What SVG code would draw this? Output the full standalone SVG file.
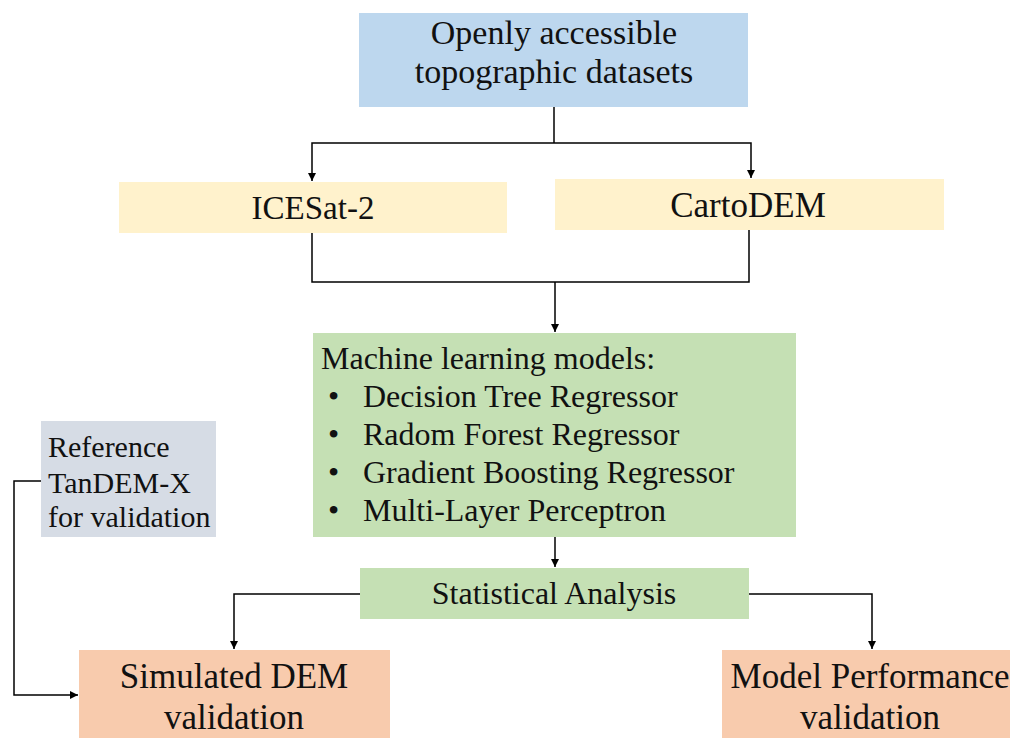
<svg xmlns="http://www.w3.org/2000/svg" width="1010" height="738" viewBox="0 0 1010 738">
  <defs>
    <marker id="arr" viewBox="0 0 10 10" refX="10" refY="5" markerWidth="8" markerHeight="8" markerUnits="userSpaceOnUse" orient="auto">
      <path d="M0,0 L10,5 L0,10 z" fill="#000"/>
    </marker>
  </defs>
  <style>
    text { font-family: "Liberation Serif", "Times New Roman", serif; fill: #111; }
    .c { text-anchor: middle; }
    .blue { fill: #BDD7EE; }
    .yellow { fill: #FFF2CC; }
    .green { fill: #C5E0B4; }
    .grey { fill: #D6DCE5; }
    .salmon { fill: #F8CBAD; }
    .conn path { fill: none; stroke: #000; stroke-width: 1.5; }
  </style>
  <rect width="1010" height="738" fill="#fff"/>

  <g id="openly">
    <rect class="blue" x="359" y="13" width="389" height="94"/>
    <text class="c" x="554" y="44" font-size="34">Openly accessible</text>
    <text class="c" x="554" y="83" font-size="34">topographic datasets</text>
  </g>
  <g id="icesat">
    <rect class="yellow" x="119" y="182" width="388" height="51"/>
    <text class="c" x="313" y="219" font-size="34" textLength="123" lengthAdjust="spacingAndGlyphs">ICESat-2</text>
  </g>
  <g id="cartodem">
    <rect class="yellow" x="555" y="179" width="389" height="51"/>
    <text class="c" x="748" y="217" font-size="35">CartoDEM</text>
  </g>
  <g id="ml">
    <rect class="green" x="313" y="333" width="483" height="204"/>
    <text x="321" y="369" font-size="32">Machine learning models:</text>
    <text x="328" y="407" font-size="32">•</text>
    <text x="363" y="407" font-size="32">Decision Tree Regressor</text>
    <text x="328" y="445" font-size="32">•</text>
    <text x="363" y="445" font-size="32">Radom Forest Regressor</text>
    <text x="328" y="483" font-size="32">•</text>
    <text x="363" y="483" font-size="32">Gradient Boosting Regressor</text>
    <text x="328" y="521" font-size="32">•</text>
    <text x="363" y="521" font-size="32">Multi-Layer Perceptron</text>
  </g>
  <g id="reference">
    <rect class="grey" x="41" y="421" width="175" height="116"/>
    <text x="48" y="457" font-size="30">Reference</text>
    <text x="48" y="493" font-size="30">TanDEM-X</text>
    <text x="48" y="527" font-size="30">for validation</text>
  </g>
  <g id="stat">
    <rect class="green" x="360" y="568" width="389" height="51"/>
    <text class="c" x="554" y="604" font-size="32">Statistical Analysis</text>
  </g>
  <g id="simulated">
    <rect class="salmon" x="79" y="650" width="311" height="90"/>
    <text class="c" x="234" y="688" font-size="35">Simulated DEM</text>
    <text class="c" x="234" y="729" font-size="35">validation</text>
  </g>
  <g id="modelperf">
    <rect class="salmon" x="722" y="650" width="290" height="90"/>
    <text class="c" x="870" y="688" font-size="35">Model Performance</text>
    <text class="c" x="870" y="729" font-size="35">validation</text>
  </g>

  <g id="connectors" class="conn">
    <path d="M554,107 V143"/>
    <path d="M554,143 H312 V181" marker-end="url(#arr)"/>
    <path d="M554,143 H751 V178" marker-end="url(#arr)"/>
    <path d="M312,233 V282 H749 V230"/>
    <path d="M555,282 V332" marker-end="url(#arr)"/>
    <path d="M555,537 V567" marker-end="url(#arr)"/>
    <path d="M360,594 H234 V649" marker-end="url(#arr)"/>
    <path d="M749,594 H872 V649" marker-end="url(#arr)"/>
    <path d="M41,481 H14 V695 H78" marker-end="url(#arr)"/>
  </g>
</svg>
